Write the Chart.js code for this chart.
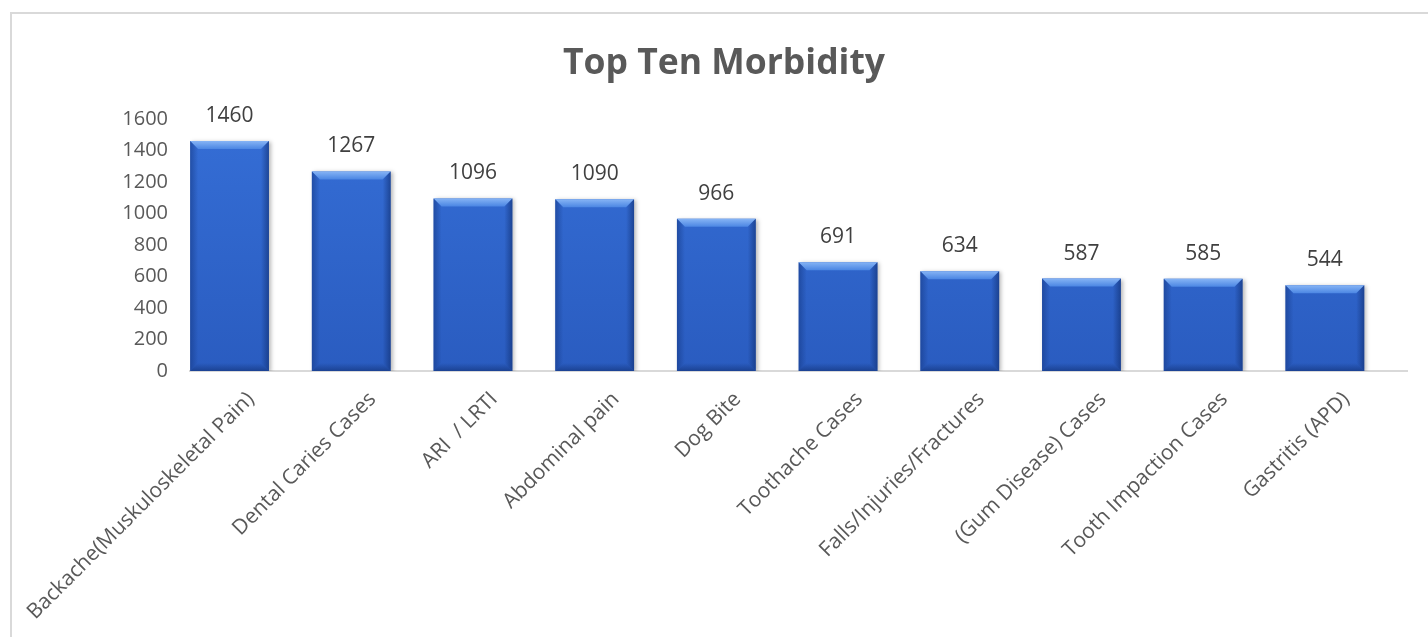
<!DOCTYPE html>
<html>
<head>
<meta charset="utf-8">
<title>Top Ten Morbidity</title>
<script src="https://cdn.jsdelivr.net/npm/chart.js@4.4.0/dist/chart.umd.min.js"></script>
<style>
  html, body { margin:0; padding:0; background:#fff; overflow:hidden; }
  #frame { position:absolute; left:10px; top:12px; width:1440px; height:640px; border-left:2px solid #d9d9d9; border-top:2px solid #d9d9d9; }
  #wrap { position:absolute; left:0; top:0; width:1428px; height:637px; }
</style>
</head>
<body>
<div id="frame"></div>
<div id="wrap"><canvas id="morbidityChart" width="1428" height="637"></canvas></div>
<script>
// Top Ten Morbidity - bar chart
const chartTitle = 'Top Ten Morbidity';
const categories = [
  'Backache(Muskuloskeletal Pain)', 'Dental Caries Cases', 'ARI  / LRTI', 'Abdominal pain', 'Dog Bite',
  'Toothache Cases', 'Falls/Injuries/Fractures', '(Gum Disease) Cases', 'Tooth Impaction Cases', 'Gastritis (APD)'
];
const cases = [1460, 1267, 1096, 1090, 966, 691, 634, 587, 585, 544];
// empty second series (bars sit left in each category like the original sheet)
const emptySeries = [null, null, null, null, null, null, null, null, null, null];
const yMin = 0, yMax = 1600, yStep = 200;

const FONT = '"Open Sans", Lato, sans-serif';

// bevel + labels + title drawn on top of the bars
const bevelPlugin = {
  id: 'bevel',
  beforeDatasetsDraw(chart){
    const c = chart.ctx;
    c.save();
    c.shadowColor = 'rgba(0,0,0,0.28)';
    c.shadowBlur = 4;
    c.shadowOffsetX = 2;
    c.shadowOffsetY = 1;
  },
  afterDatasetsDraw(chart){
    const c = chart.ctx;
    c.restore();
    const meta = chart.getDatasetMeta(0);
    meta.data.forEach((el, i)=>{
      const p = el.getProps(['x','y','base','width'], true);
      const l = p.x - p.width/2, r = p.x + p.width/2, t = p.y, b = p.base;
      const bv = 8;
      // top bevel
      let g = c.createLinearGradient(0, t, 0, t+bv);
      g.addColorStop(0, '#86b4f5'); g.addColorStop(1, '#4b86e3');
      c.fillStyle = g;
      c.beginPath(); c.moveTo(l,t); c.lineTo(r,t); c.lineTo(r-bv,t+bv); c.lineTo(l+bv,t+bv); c.closePath(); c.fill();
      // left bevel
      g = c.createLinearGradient(l, 0, l+bv, 0);
      g.addColorStop(0, 'rgba(20,55,130,0.55)'); g.addColorStop(1, 'rgba(20,55,130,0.0)');
      c.fillStyle = g;
      c.beginPath(); c.moveTo(l,t); c.lineTo(l+bv,t+bv); c.lineTo(l+bv,b-bv); c.lineTo(l,b); c.closePath(); c.fill();
      // right bevel
      g = c.createLinearGradient(r-bv, 0, r, 0);
      g.addColorStop(0, 'rgba(15,45,110,0.0)'); g.addColorStop(1, 'rgba(15,45,110,0.6)');
      c.fillStyle = g;
      c.beginPath(); c.moveTo(r,t); c.lineTo(r,b); c.lineTo(r-bv,b-bv); c.lineTo(r-bv,t+bv); c.closePath(); c.fill();
      // bottom bevel
      g = c.createLinearGradient(0, b-bv, 0, b);
      g.addColorStop(0, 'rgba(15,45,110,0.0)'); g.addColorStop(1, 'rgba(15,45,110,0.55)');
      c.fillStyle = g;
      c.beginPath(); c.moveTo(l,b); c.lineTo(l+bv,b-bv); c.lineTo(r-bv,b-bv); c.lineTo(r,b); c.closePath(); c.fill();

      // value label
      c.fillStyle = '#404040';
      c.font = '21px ' + FONT;
      c.textAlign = 'center';
      c.textBaseline = 'middle';
      c.fillText(String(cases[i]), p.x, t - 25);
    });

    // title
    c.save();
    c.fillStyle = '#595959';
    c.font = 'bold 35.5px ' + FONT;
    c.textAlign = 'center';
    c.textBaseline = 'middle';
    c.fillText(chartTitle, 724, 64);
    c.restore();
  }
};

const ctx = document.getElementById('morbidityChart').getContext('2d');
const chart = new Chart(ctx, {
  type: 'bar',
  data: {
    labels: categories,
    datasets: [
      {
        label: 'Cases',
        data: cases,
        backgroundColor: (cx)=>{
          const area = cx.chart.chartArea;
          if(!area) return '#2f66cc';
          const g = cx.chart.ctx.createLinearGradient(0, area.top, 0, area.bottom);
          g.addColorStop(0, '#356ed6'); g.addColorStop(1, '#2a5cc0');
          return g;
        },
        borderWidth: 0,
        categoryPercentage: 0.70,
        barPercentage: 1.85
      },
      {
        label: '',
        data: emptySeries,
        backgroundColor: 'rgba(0,0,0,0)',
        categoryPercentage: 0.70,
        barPercentage: 1.85
      }
    ]
  },
  options: {
    responsive: false,
    animation: false,
    devicePixelRatio: 1,
    layout: { padding: { left: 0, right: 21, top: 119, bottom: 0 } },
    plugins: {
      legend: { display: false },
      title: { display: false },
      tooltip: { enabled: false }
    },
    scales: {
      x: {
        grid: { display: false, drawTicks: false },
        border: { display: true, color: '#d9d9d9', width: 2 },
        ticks: {
          color: '#595959',
          font: { family: FONT, size: 21 },
          minRotation: 45, maxRotation: 45,
          autoSkip: false,
          padding: 16
        },
        afterFit(scale){ scale.height = 637 - 371; }
      },
      y: {
        min: yMin, max: yMax,
        grid: { display: false, drawTicks: false },
        border: { display: false },
        ticks: {
          stepSize: yStep,
          color: '#595959',
          font: { family: FONT, size: 20 },
          padding: 22,
          callback: (v)=> String(v)
        },
        afterFit(scale){ scale.width = 190; }
      }
    }
  },
  plugins: [bevelPlugin]
});
</script>
</body>
</html>
